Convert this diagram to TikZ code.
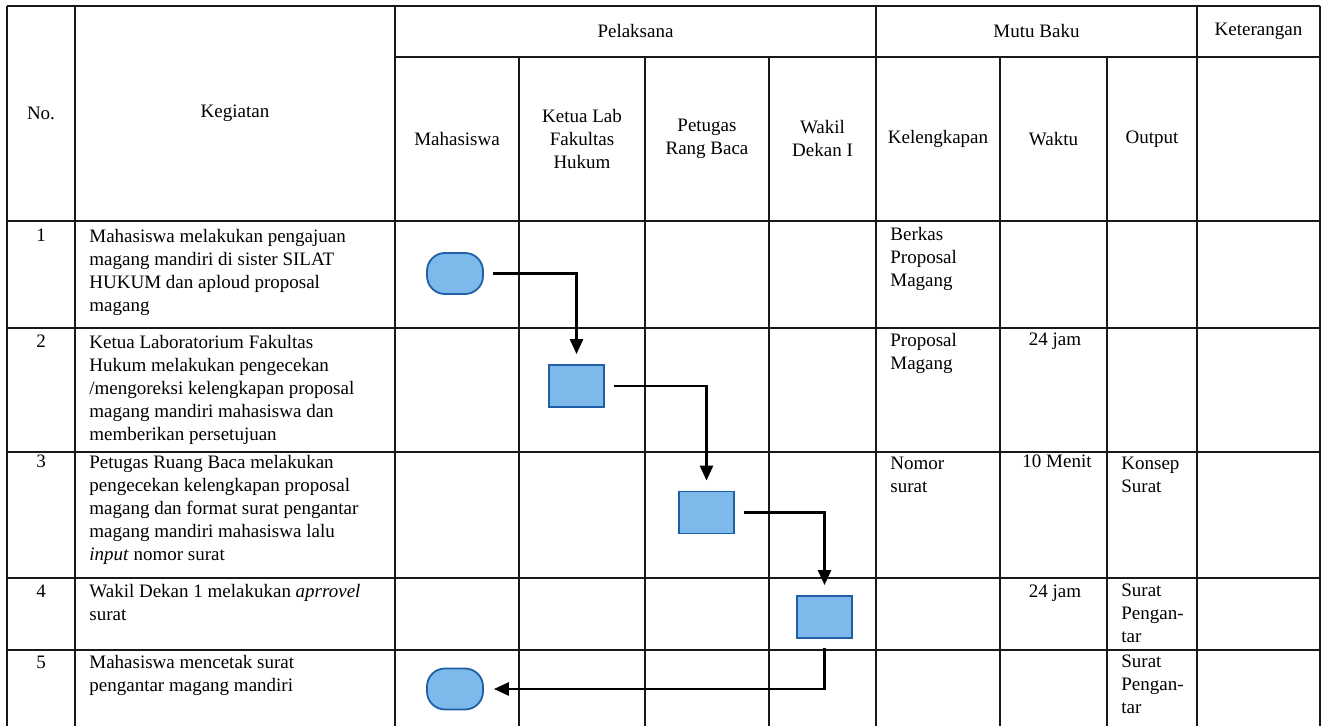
\documentclass[tikz,border=0pt]{standalone}
\usepackage{fontspec}
\setmainfont{Liberation Serif}
\usetikzlibrary{arrows.meta,positioning}
\definecolor{flowblue}{RGB}{30,95,165}
\definecolor{flowfill}{RGB}{125,185,235}
\newcommand{\rowfont}{\fontsize{9.5pt}{11.5pt}\selectfont}
\tikzset{
  terminal/.style={draw=flowblue, fill=flowfill, line width=0.9pt, rounded corners=9pt, minimum width=28pt, minimum height=20.5pt}, % start / end
  process/.style={draw=flowblue, fill=flowfill, line width=0.9pt, minimum width=27.5pt, minimum height=21pt}, % activity box
  celltext/.style={inner sep=0pt, align=left, anchor=north west, yshift=-1.5pt, font=\rowfont, execute at begin node=\strut},
  numtext/.style={inner sep=0pt, anchor=base, font=\rowfont},
  headtext/.style={inner sep=0pt, align=center, font=\rowfont},
  tabline/.style={line width=0.75pt, draw=black!90},
  flow/.style={-{Triangle[length=7.5pt,width=6.5pt]}, line width=1.3pt, shorten <=4.5pt, shorten >=5pt}
}

\begin{document}
\begin{tikzpicture}[x=0.5pt, y=-0.5pt]
    \useasboundingbox (0,0) rectangle (1322,726);

    % Table lines
    \foreach \x in {7,75,395,876,1197,1320}
      \draw[tabline] (\x,6) -- (\x,726);
    \foreach \x in {519,645,769,1000,1107}
      \draw[tabline] (\x,57) -- (\x,726);
    \draw[tabline] (7,6) -- (1320,6);
    \draw[tabline] (395,57) -- (1320,57);
    \foreach \y in {221,328,452,578,650}
      \draw[tabline] (7,\y) -- (1320,\y);

    % Header
    \node[headtext] (hNo) at (41,113.5) {No.};
    \node[headtext] (hKegiatan) at (235,113.5) {Kegiatan};
    \node[headtext] (hPelaksana) at (635.5,31.5) {Pelaksana};
    \node[headtext] (hMutu) at (1036.5,31.5) {Mutu Baku};
    \node[headtext] (hKet) at (1258.5,31.5) {Keterangan};
    \node[headtext] (hMhs) at (457,139) {Mahasiswa};
    \node[headtext] (hKetua) at (582,139) {Ketua Lab\\Fakultas\\Hukum};
    \node[headtext] (hPetugas) at (707,139) {Petugas\\Rang Baca};
    \node[headtext] (hWakil) at (822.5,139) {Wakil\\Dekan I};
    \node[headtext] (hKel) at (938,139) {Kelengkapan};
    \node[headtext] (hWaktu) at (1053.5,139) {Waktu};
    \node[headtext] (hOutput) at (1152,139) {Output};

    % Row 1 (text tops sit 16 units above the first baseline)
    \node[numtext] (no1) at (41,242) {1};
    \node[celltext] (keg1) at (89,226) {Mahasiswa melakukan pengajuan\\magang mandiri di sister SILAT\\HUKUM dan aploud proposal\\magang};
    \node[celltext] (kel1) at (890,224) {Berkas\\Proposal\\Magang};

    % Row 2
    \node[numtext] (no2) at (41,348) {2};
    \node[celltext] (keg2) at (89,332) {Ketua Laboratorium Fakultas\\Hukum melakukan pengecekan\\/mengoreksi kelengkapan proposal\\magang mandiri mahasiswa dan\\memberikan persetujuan};
    \node[celltext] (kel2) at (890,330) {Proposal\\Magang};
    \node[numtext] (wkt2) at (1055,346) {24 jam};

    % Row 3
    \node[numtext] (no3) at (41,468) {3};
    \node[celltext] (keg3) at (89,452) {Petugas Ruang Baca melakukan\\pengecekan kelengkapan proposal\\magang dan format surat pengantar\\magang mandiri mahasiswa lalu\\\textit{input} nomor surat};
    \node[celltext] (kel3) at (890,454) {Nomor\\surat};
    \node[numtext] (wkt3) at (1057,468) {10 Menit};
    \node[celltext] (out3) at (1121,454) {Konsep\\Surat};

    % Row 4
    \node[numtext] (no4) at (41,597) {4};
    \node[celltext] (keg4) at (89,581) {Wakil Dekan 1 melakukan \textit{aprrovel}\\surat};
    \node[numtext] (wkt4) at (1055,597) {24 jam};
    \node[celltext] (out4) at (1121,581) {Surat\\Pengan-\\tar};

    % Row 5
    \node[numtext] (no5) at (41,668) {5};
    \node[celltext] (keg5) at (89,652) {Mahasiswa mencetak surat\\pengantar magang mandiri};
    \node[celltext] (out5) at (1121,652) {Surat\\Pengan-\\tar};

    % Flow shapes
    \node[terminal] (mhs1) at (455,273.5) {};
    \node[process] (ketua) at (576.5,386) {};
    \node[process] (petugas) at (706.5,512.5) {};
    \node[process] (wakil) at (824.5,617) {};
    \node[terminal] (mhs2) at (455,689) {};

    % Edges
    \draw[flow] (mhs1.east) -| (ketua.north);
    \draw[flow] (ketua.east) -| (petugas.north);
    \draw[flow] (petugas.east) -| (wakil.north);
    \draw[flow] (wakil.south) |- (mhs2.east);

\end{tikzpicture}
\end{document}
